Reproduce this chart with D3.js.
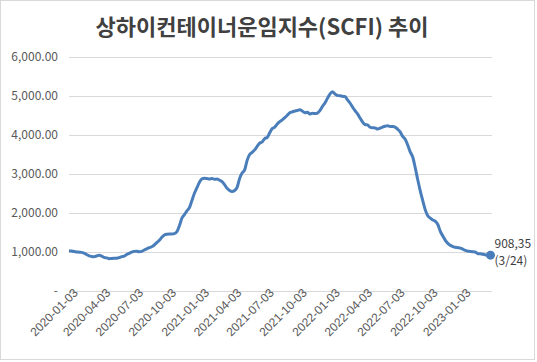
<!DOCTYPE html>
<meta charset="utf-8">
<style>
body { margin: 0; background: #fff; }
svg { font-family: "Noto Sans CJK KR", "Noto Sans", sans-serif; }
.grid line { stroke: #d9d9d9; stroke-width: 1px; }
.ylab { font-size: 12px; fill: #595959; }
.xlab { font-size: 12px; fill: #595959; }
</style>
<body>
<div id="chart"></div>
<script src="https://cdn.jsdelivr.net/npm/d3@7"></script>
<script>

var title = "상하이컨테이너운임지수(SCFI) 추이";

// weekly SCFI, every Friday from 2020-01-03 to 2023-03-24
var startDate = "2020-01-03",
    endDate = "2023-03-24";

var scfi = [
  1023, 1015, 1001, 990, 985, 980, 958, 925, 890, 876, 870, 885, 905, 886, 851, 838, 818, 822, 826, 830,
  845, 870, 886, 925, 955, 985, 1005, 1010, 995, 1005, 1040, 1070, 1100, 1125, 1170, 1230, 1290, 1367, 1425, 1445,
  1449, 1450, 1460, 1510, 1664, 1857, 1948, 2048, 2129, 2315, 2500, 2641, 2783, 2870, 2885, 2876, 2867, 2875, 2860, 2862,
  2834, 2800, 2720, 2625, 2570, 2545, 2570, 2650, 2880, 3020, 3100, 3343, 3495, 3550, 3613, 3703, 3785, 3820, 3905, 3932,
  4052, 4160, 4196, 4281, 4340, 4385, 4440, 4502, 4568, 4590, 4614, 4625, 4643, 4614, 4567, 4580, 4535, 4555, 4545, 4560,
  4620, 4727, 4818, 4937, 5047, 5109, 5053, 5010, 5005, 4990, 4986, 4900, 4818, 4715, 4620, 4540, 4434, 4330, 4264, 4255,
  4195, 4180, 4178, 4147, 4175, 4200, 4221, 4233, 4216, 4215, 4200, 4143, 4074, 3960, 3887, 3739, 3562, 3429, 3154, 2847,
  2562, 2312, 2072, 1923, 1860, 1814, 1778, 1697, 1520, 1400, 1290, 1210, 1160, 1130, 1110, 1100, 1090, 1061, 1029, 1009,
  1005, 996, 985, 946, 942, 930, 915, 906, 908.35
];

var xTicks = ["2020-01-03", "2020-04-03", "2020-07-03", "2020-10-03", "2021-01-03", "2021-04-03", "2021-07-03",
  "2021-10-03", "2022-01-03", "2022-04-03", "2022-07-03", "2022-10-03", "2023-01-03"];
var yTicks = [0, 1000, 2000, 3000, 4000, 5000, 6000];

var lastLabel = ["908,35", "(3/24)"];

var width = 537,
    height = 362;

var parse = d3.timeParse("%Y-%m-%d");
var weeks = d3.timeFriday.range(parse(startDate), d3.timeDay.offset(parse(endDate), 1));
var data = weeks.map(function(d, i) { return { date: d, value: scfi[i] }; });

var x = d3.scaleTime()
    .domain([parse(startDate), parse(endDate)])
    .range([69, 490.5]);

var y = d3.scaleLinear()
    .domain([0, 6000])
    .range([290.5, 57]);

var svg = d3.select("#chart").append("svg")
    .attr("width", width)
    .attr("height", height);

svg.append("rect")
    .attr("x", 0.5).attr("y", 0.5)
    .attr("width", 534).attr("height", 359)
    .attr("fill", "#fff")
    .attr("stroke", "#d9d9d9");

svg.append("text")
    .attr("x", 262)
    .attr("y", 35)
    .attr("text-anchor", "middle")
    .style("font-size", "22px")
    .style("font-weight", "bold")
    .style("fill", "#404040")
    .text(title);

// gridlines
svg.append("g")
    .attr("class", "grid")
    .selectAll("line")
    .data(yTicks.slice(1))
    .enter().append("line")
    .attr("x1", 69).attr("x2", 492)
    .attr("y1", function(d) { return Math.round(y(d)) + 0.5; })
    .attr("y2", function(d) { return Math.round(y(d)) + 0.5; });

// y labels
svg.append("g")
    .selectAll("text")
    .data(yTicks)
    .enter().append("text")
    .attr("class", "ylab")
    .attr("x", 58)
    .attr("y", function(d) { return y(d) + 4; })
    .attr("text-anchor", "end")
    .text(function(d) { return d === 0 ? "-" : d3.format(",.2f")(d); });

// x axis
var xAxis = d3.axisBottom(x)
    .tickValues(xTicks.map(parse))
    .tickSize(4)
    .tickFormat(d3.timeFormat("%Y-%m-%d"));

var gx = svg.append("g")
    .attr("transform", "translate(0," + (Math.round(y(0)) + 0.5) + ")")
    .call(xAxis);
gx.select(".domain").attr("stroke", "#d9d9d9").attr("d", "M69,0H492");
gx.selectAll(".tick line").attr("stroke", "#d9d9d9");
gx.selectAll(".tick text")
    .attr("class", "xlab")
    .attr("font-family", null)
    .attr("font-size", null)
    .attr("fill", null)
    .attr("text-anchor", "end")
    .attr("dx", "5px")
    .attr("dy", "8px")
    .attr("y", 0)
    .attr("transform", "rotate(-45)");

var line = d3.line()
    .x(function(d) { return x(d.date); })
    .y(function(d) { return y(d.value); })
    .curve(d3.curveMonotoneX);

svg.append("path")
    .datum(data)
    .attr("fill", "none")
    .attr("stroke", "#4a7ebb")
    .attr("stroke-width", 3)
    .attr("stroke-linejoin", "round")
    .attr("d", line);

var last = data[data.length - 1];
svg.append("circle")
    .attr("cx", x(last.date))
    .attr("cy", y(last.value))
    .attr("r", 4.5)
    .attr("fill", "#4a7ebb");

svg.append("g")
    .selectAll("text")
    .data(lastLabel)
    .enter().append("text")
    .attr("x", x(last.date) + 4)
    .attr("y", function(d, i) { return y(last.value) - 7 + i * 17; })
    .style("font-size", "12px")
    .style("fill", "#404040")
    .text(function(d) { return d; });

</script>
